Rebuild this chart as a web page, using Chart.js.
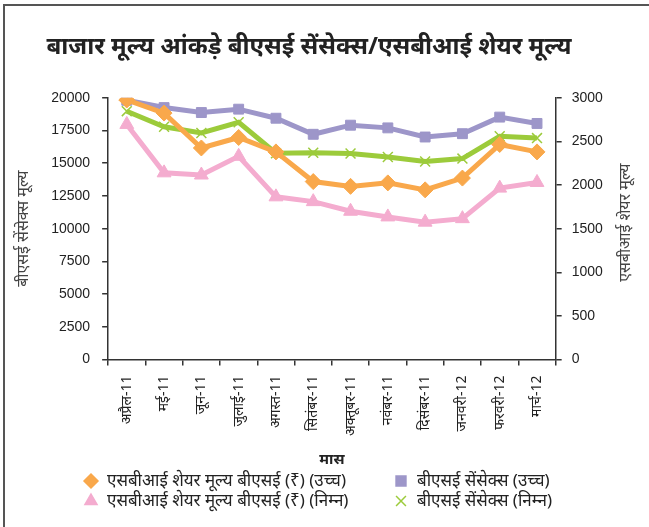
<!DOCTYPE html>
<html>
<head>
<meta charset="utf-8">
<script src="https://cdn.jsdelivr.net/npm/chart.js@4.4.0/dist/chart.umd.min.js"></script>
<style>
  html, body { margin: 0; padding: 0; background: #fff; }
  #wrap { position: relative; width: 649px; height: 527px; }
  #frame {
    position: absolute; left: 3px; top: 4px; right: 0; bottom: 0;
    border-top: 2px solid #555; border-left: 2px solid #555;
    pointer-events: none;
  }
</style>
</head>
<body>
<div id="wrap">
  <canvas id="graph" width="649" height="527"></canvas>
  <div id="frame"></div>
</div>
<script>
// months (x axis)
var months = ['अप्रैल-11', 'मई-11', 'जून-11', 'जुलाई-11', 'अगस्त-11', 'सितंबर-11',
              'अक्तूबर-11', 'नवंबर-11', 'दिसंबर-11', 'जनवरी-12', 'फरवरी-12', 'मार्च-12'];

// SBI share price on BSE (right axis)
var sbiHigh = [2975, 2825, 2425, 2545, 2380, 2040, 1985, 2025, 1945, 2080, 2465, 2380];
var sbiLow  = [2695, 2140, 2115, 2330, 1865, 1810, 1700, 1635, 1575, 1615, 1965, 2030];

// BSE Sensex (left axis)
var sensexHigh = [19811, 19253, 18873, 19131, 18440, 17212, 17908, 17703, 17004, 17259, 18524, 18041];
var sensexLow  = [18976, 17786, 17314, 18131, 15766, 15801, 15745, 15478, 15135, 15358, 17062, 16921];

var leftTicks = [0, 2500, 5000, 7500, 10000, 12500, 15000, 17500, 20000];
var rightTicks = [0, 500, 1000, 1500, 2000, 2500, 3000];

var devFont = "'Noto Sans', 'Liberation Sans', sans-serif";
var numFont = "'Liberation Sans', 'Noto Sans', sans-serif";
var chartTitle = 'बाजार मूल्य आंकड़े बीएसई सेंसेक्स/एसबीआई शेयर मूल्य';
var rightTitle = 'एसबीआई शेयर मूल्य';

// legend in a 2x2 grid, main title and right axis title (read bottom-to-top)
var extras = {
  id: 'extras',
  afterDraw: function(chart) {
    var ctx = chart.ctx;
    var order = [0, 2, 1, 3]; // row1: sbi high, sensex high ; row2: sbi low, sensex low
    var cols = [91, 401];
    var rows = [481, 501];
    ctx.save();
    order.forEach(function(di, i) {
      var ds = chart.data.datasets[di];
      var x = cols[i % 2], y = rows[Math.floor(i / 2)];
      ctx.fillStyle = ds.borderColor;
      ctx.strokeStyle = ds.borderColor;
      ctx.lineWidth = 1.5;
      Chart.helpers.drawPoint(ctx, { pointStyle: ds.pointStyle, radius: 7, rotation: 0, borderWidth: 1.5 }, x, y);
      ctx.fillStyle = '#222';
      ctx.font = '17px ' + devFont;
      ctx.textBaseline = 'middle';
      ctx.textAlign = 'left';
      ctx.fillText(ds.label, x + 16, y);
    });

    // title, a little left of the canvas centre like the original
    ctx.fillStyle = '#222';
    ctx.font = 'bold 24px ' + devFont;
    ctx.textAlign = 'center';
    ctx.textBaseline = 'middle';
    ctx.fillText(chartTitle, 309, 47);

    var sc = chart.scales.yRight;
    ctx.translate(sc.right - 2 - 9.6, (chart.chartArea.top + chart.chartArea.bottom) / 2 - 6);
    ctx.rotate(-Math.PI / 2);
    ctx.fillStyle = '#444';
    ctx.font = '16px ' + devFont;
    ctx.fillText(rightTitle, 0, 0);
    ctx.restore();
  }
};

var ctx = document.getElementById('graph').getContext('2d');
var myChart = new Chart(ctx, {
  type: 'line',
  data: {
    labels: months,
    datasets: [{
      label: 'एसबीआई शेयर मूल्य बीएसई (₹) (उच्च)',
      data: sbiHigh,
      yAxisID: 'yRight',
      borderColor: '#F9A84B',
      backgroundColor: '#F9A84B',
      pointStyle: 'rectRot',
      pointRadius: 8
    }, {
      label: 'एसबीआई शेयर मूल्य बीएसई (₹) (निम्न)',
      data: sbiLow,
      yAxisID: 'yRight',
      borderColor: '#F4ACCF',
      backgroundColor: '#F4ACCF',
      pointStyle: 'triangle',
      pointRadius: 8
    }, {
      label: 'बीएसई सेंसेक्स (उच्च)',
      data: sensexHigh,
      yAxisID: 'yLeft',
      borderColor: '#9D96C9',
      backgroundColor: '#9D96C9',
      pointStyle: 'rect',
      pointRadius: 7
    }, {
      label: 'बीएसई सेंसेक्स (निम्न)',
      data: sensexLow,
      yAxisID: 'yLeft',
      borderColor: '#9CCB3B',
      backgroundColor: '#9CCB3B',
      pointStyle: 'crossRot',
      pointRadius: 7,
      pointBorderWidth: 1.5
    }]
  },
  options: {
    responsive: false,
    animation: false,
    elements: {
      line: { borderWidth: 5, tension: 0 },
      point: { borderWidth: 1 }
    },
    layout: { padding: { left: 12, right: 12, top: 0, bottom: 58 } },
    plugins: {
      legend: { display: false },
      tooltip: { enabled: false },
      // keeps the room for the title; the text itself is drawn by extras
      title: {
        display: true,
        text: chartTitle,
        color: 'rgba(0,0,0,0)',
        font: { family: devFont, size: 24, weight: 'bold' },
        padding: { top: 33, bottom: 36 }
      }
    },
    scales: {
      x: {
        offset: true,
        grid: { display: true, drawOnChartArea: false, offset: true, tickLength: 6, color: '#333', lineWidth: 1.5 },
        border: { color: '#333', width: 1.5 },
        ticks: { color: '#222', minRotation: 90, maxRotation: 90, padding: 10, font: { family: devFont, size: 14 } },
        title: { display: true, text: 'मास', color: '#222', font: { family: devFont, size: 15, weight: 'bold' }, padding: { top: 5, bottom: 0 } }
      },
      yLeft: {
        position: 'left',
        min: 0, max: 20000,
        afterBuildTicks: function(axis) { axis.ticks = leftTicks.map(function(v) { return { value: v }; }); },
        grid: { drawOnChartArea: false, tickLength: 6, color: '#333', lineWidth: 1.5 },
        border: { color: '#333', width: 1.5 },
        ticks: { color: '#222', font: { family: numFont, size: 14 }, padding: 12, callback: function(v) { return String(v); } },
        title: { display: true, text: 'बीएसई सेंसेक्स मूल्य', color: '#444', font: { family: devFont, size: 16 }, padding: { top: 2, bottom: 6 } }
      },
      yRight: {
        position: 'right',
        min: 0, max: 3000,
        afterBuildTicks: function(axis) { axis.ticks = rightTicks.map(function(v) { return { value: v }; }); },
        grid: { drawOnChartArea: false, tickLength: 6, color: '#333', lineWidth: 1.5 },
        border: { color: '#333', width: 1.5 },
        ticks: { color: '#222', font: { family: numFont, size: 14 }, padding: 10, callback: function(v) { return String(v); } },
        title: { display: true, text: rightTitle, color: 'rgba(0,0,0,0)', font: { family: devFont, size: 16 }, padding: { top: 2, bottom: 3 } }
      }
    }
  },
  plugins: [extras]
});
</script>
</body>
</html>
